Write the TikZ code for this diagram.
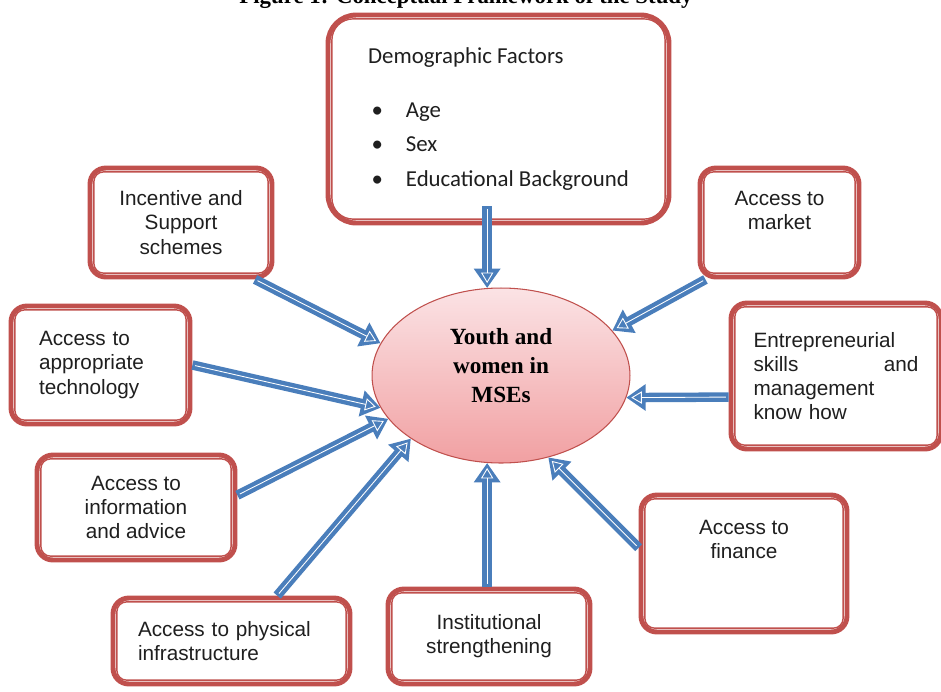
\documentclass[tikz,border=0pt]{standalone}
\usepackage{fontspec}
\usepackage{xcolor}
\usepackage{tikz}
\usetikzlibrary{arrows.meta}
\usetikzlibrary{shapes.geometric}
\newfontfamily\boxFont{Liberation Sans}
\newfontfamily\listFont{Carlito}
\newfontfamily\titleFont{Liberation Serif}
\definecolor{boxRed}{HTML}{C0504D}
\definecolor{arrowBlue}{HTML}{4A7EBB}
\definecolor{ovalTop}{HTML}{FBE3E5}
\definecolor{ovalBottom}{HTML}{F1A0A2}
\newcommand{\listDot}{\makebox[21.5pt][l]{\hspace{2pt}\textbullet}}
\tikzstyle{roundbox}=[rectangle, rounded corners=9pt, draw=boxRed, line width=2.8pt, fill=white, align=center, text=black!88, font=\boxFont\fontsize{11.8}{13.8}\selectfont]
\tikzstyle{innerline}=[draw=boxRed, line width=0.8pt]
\tikzstyle{arrow}=[draw=arrowBlue, line width=5.4pt, -{Triangle[length=11pt,width=14.5pt]},
	postaction={draw=white, line width=0.5pt, shorten >=2.8pt, shorten <=1.5pt, -{Triangle[open, length=6pt, width=7pt, line width=0.5pt]}}]
\tikzset{
	oval/.style={
		ellipse,
		draw=boxRed,
		line width=0.6pt,
		top color=ovalTop,
		bottom color=ovalBottom,
		inner sep=0pt,
		minimum width=5.16cm,
		minimum height=3.5cm,
		align=center,
		text depth=12pt,
		font=\titleFont\bfseries\fontsize{13.2}{16.5}\selectfont
	}
}

\begin{document}
\begin{tikzpicture}[x=0.02cm, y=-0.02cm]
	\useasboundingbox (0,0) rectangle (941,691);
	
	\node(Caption)[anchor=base, font=\titleFont\bfseries\fontsize{13}{15}\selectfont] at (466,3) {Figure 1: Conceptual Framework of the Study};
	
	\node(Youth)[oval] at (501,375.5) {Youth and\\ women in\\ MSEs};
	
	\node(Demographic)[roundbox, rounded corners=16pt, align=left, font=\listFont\fontsize{13}{19.8}\selectfont, minimum width=6.82cm, minimum height=4.16cm] at (498.5,119)
	{Demographic Factors\\[10.8pt]
		\listDot Age\\
		\listDot Sex\\
		\listDot Educational Background};
	
	\node(Incentive)[roundbox, minimum width=3.64cm, minimum height=2.18cm] at (181,222.5) {Incentive and\\ Support\\ schemes};
	
	\node(Technology)[roundbox, minimum width=3.58cm, minimum height=2.36cm, text width=2.46cm, align=left] at (100.5,365) {Access to\\ appropriate\\ technology};
	
	\node(Information)[roundbox, minimum width=3.96cm, minimum height=2.1cm] at (136,507.5) {Access to\\ information\\ and advice};
	
	\node(Physical)[roundbox, minimum width=4.74cm, minimum height=1.72cm, text width=3.74cm, align=left] at (231.5,641) {Access to physical\\ infrastructure};
	
	\node(Institutional)[roundbox, minimum width=4.04cm, minimum height=1.9cm] at (489,636.5) {Institutional\\ strengthening};
	
	\node(Finance)[roundbox, minimum width=4.12cm, minimum height=2.74cm] at (744,563.5) {Access to\\ finance\\ \mbox{}\\ \mbox{}};
	
	\node(Entrepreneurial)[roundbox, minimum width=4.2cm, minimum height=2.92cm, text width=3.3cm, align=left] at (836,376) {Entrepreneurial\\ skills\hfill and\\ management\\ know how};
	
	\node(Market)[roundbox, minimum width=3.18cm, minimum height=2.18cm] at (779.5,222.5) {Access to\\ market\\ \mbox{}};
	
	% thin inner border of the boxes
	\foreach \n/\r in {Demographic/12pt, Incentive/5.5pt, Technology/5.5pt, Information/5.5pt, Physical/5.5pt, Institutional/5.5pt, Finance/5.5pt, Entrepreneurial/5.5pt, Market/5.5pt}
		\draw[innerline, rounded corners=\r] ([shift={(3.6pt,3.6pt)}]\n.south west) rectangle ([shift={(-3.6pt,-3.6pt)}]\n.north east);
	
	\draw [arrow] ([yshift=11pt]Demographic.south -| Youth.99) -- (Youth.99);
	\draw [arrow] ([xshift=-11pt]Incentive.south east) -- (Youth.165);
	\draw [arrow] (Technology.east) -- (Youth.195);
	\draw [arrow] ([yshift=7pt]Information.east) -- (Youth.201);
	\draw [arrow] ([xshift=26pt]Physical.north) -- (Youth.215);
	\draw [arrow] (Youth.261 |- Institutional.north) -- (Youth.261);
	\draw [arrow] ([yshift=9pt]Finance.west) -- (Youth.300);
	\draw [arrow] ([yshift=-12pt]Entrepreneurial.west) -- (Youth.350);
	\draw [arrow] ([xshift=4.5pt]Market.south west) -- (Youth.22);
\end{tikzpicture}
\end{document}
